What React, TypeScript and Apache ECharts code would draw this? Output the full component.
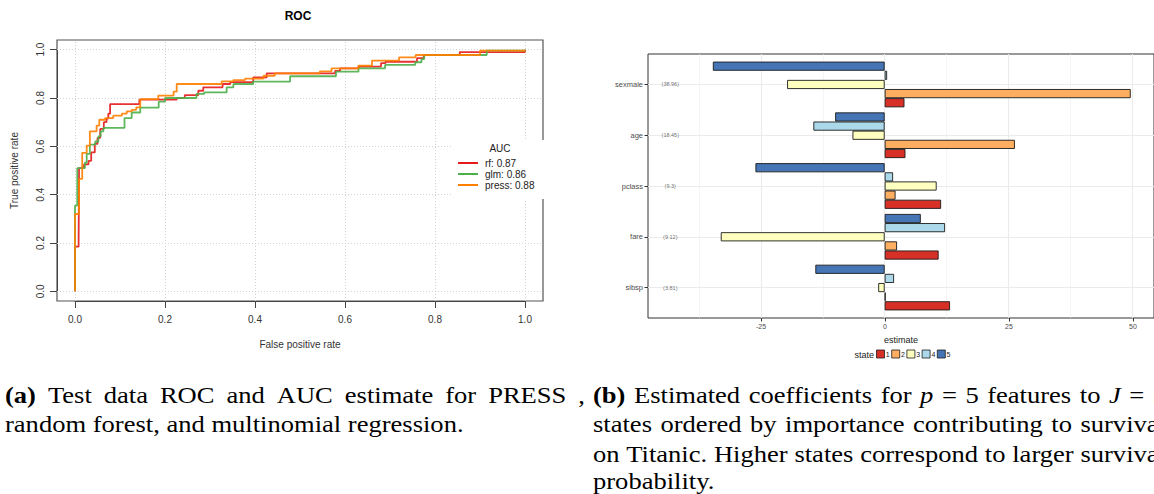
import React, { useEffect, useRef } from 'react';
import * as echarts from 'echarts';

// ---------- Panel (a): ROC ----------
const rocTicks = [0, 0.2, 0.4, 0.6, 0.8, 1.0];
const rocNames = ['rf: 0.87', 'glm: 0.86', 'press: 0.88'];
const rocColors = ['#E41A1C', '#4DAF4A', '#FF7F00'];

const rfPoints = [
  [0, 0], [0, 0.185], [0.008, 0.2], [0.009, 0.51], [0.02, 0.525], [0.03, 0.54], [0.036, 0.575],
  [0.044, 0.61], [0.05, 0.635], [0.056, 0.672], [0.064, 0.7], [0.07, 0.715], [0.074, 0.735],
  [0.078, 0.775], [0.143, 0.793], [0.226, 0.8], [0.244, 0.812], [0.274, 0.83], [0.285, 0.844],
  [0.328, 0.858], [0.345, 0.866], [0.396, 0.885], [0.426, 0.902], [0.578, 0.912], [0.589, 0.923],
  [0.63, 0.93], [0.68, 0.944], [0.69, 0.95], [0.76, 0.965], [0.775, 0.978], [0.855, 0.99], [1, 1],
];
const glmPoints = [
  [0, 0], [0, 0.355], [0.005, 0.51], [0.022, 0.532], [0.026, 0.569], [0.033, 0.607], [0.045, 0.62],
  [0.052, 0.641], [0.057, 0.662], [0.063, 0.676], [0.11, 0.717], [0.126, 0.74], [0.145, 0.76],
  [0.186, 0.785], [0.2, 0.8], [0.27, 0.817], [0.287, 0.823], [0.337, 0.844], [0.352, 0.858],
  [0.396, 0.868], [0.478, 0.89], [0.58, 0.909], [0.63, 0.923], [0.689, 0.937], [0.756, 0.948],
  [0.77, 0.961], [0.776, 0.978], [0.915, 0.996], [1, 1],
];
const pressPoints = [
  [0, 0], [0, 0.32], [0.009, 0.465], [0.016, 0.573], [0.026, 0.603], [0.033, 0.662], [0.048, 0.686],
  [0.054, 0.71], [0.067, 0.717], [0.085, 0.727], [0.104, 0.735], [0.115, 0.745], [0.126, 0.751],
  [0.136, 0.761], [0.145, 0.795], [0.185, 0.81], [0.219, 0.826], [0.226, 0.858], [0.326, 0.869],
  [0.352, 0.874], [0.378, 0.88], [0.419, 0.892], [0.444, 0.902], [0.544, 0.91], [0.57, 0.923],
  [0.63, 0.934], [0.66, 0.955], [0.72, 0.968], [0.757, 0.978], [0.9, 0.996], [1, 1],
];

// ---------- Panel (b): coefficients ----------
const features = ['sexmale', 'age', 'pclass', 'fare', 'sibsp'];
const importance = ['(38.96)', '(18.45)', '(9.3)', '(9.12)', '(3.81)'];
const stateNames = ['1', '2', '3', '4', '5'];
const stateColors = ['#D73027', '#FDAE61', '#FFFFBF', '#ABD9E9', '#4575B4'];
const state1 = [4.0, 4.2, 11.4, 10.9, 13.2];
const state2 = [49.7, 26.3, 2.2, 2.5, 0.2];
const state3 = [-19.7, -6.5, 10.5, -33.1, -1.3];
const state4 = [0.5, -14.4, 1.7, 12.2, 1.9];
const state5 = [-34.7, -10.0, -26.1, 7.3, -14.0];
const stateValues = [state1, state2, state3, state4, state5];
const estimateTicks = [-25, 0, 25, 50];
const estimateMinor = [-37.5, -12.5, 12.5, 37.5];

// ---------- Captions ----------
type Word = { t: string; s?: 'b' | 'i' };
const w = (line: string): Word[] => line.split(' ').map((t) => ({ t }));
const capA1: Word[] = [{ t: '(a)', s: 'b' }, ...w('Test data ROC and AUC estimate for PRESS ,')];
const capA2 = 'random forest, and multinomial regression.';
const capB1: Word[] = [
  { t: '(b)', s: 'b' }, ...w('Estimated coefficients for'), { t: 'p', s: 'i' }, { t: '=' }, { t: '5' },
  ...w('features to'), { t: 'J', s: 'i' }, { t: '=' }, { t: '5' },
];
const capB2: Word[] = w('states ordered by importance contributing to survival');
const capB3: Word[] = w('on Titanic. Higher states correspond to larger survival');
const capB4 = 'probability.';

const SANS = '"Liberation Sans", Arial, Helvetica, sans-serif';
const SERIF_NAME = 'Liberation Serif';
const SERIF = '"Liberation Serif", "Times New Roman", serif';
const CAP_SIZE = 23;
const CAP_SCALE = 1.155;

let measureCtx: CanvasRenderingContext2D | null = null;
function measure(text: string, s?: 'b' | 'i') {
  if (!measureCtx) measureCtx = document.createElement('canvas').getContext('2d');
  const ctx = measureCtx as CanvasRenderingContext2D;
  ctx.font = `${s === 'i' ? 'italic ' : ''}${s === 'b' ? 'bold ' : ''}${CAP_SIZE}px "${SERIF_NAME}"`;
  return ctx.measureText(text).width * CAP_SCALE;
}

function wordEl(x: number, y: number, text: string, s?: 'b' | 'i') {
  return {
    type: 'text',
    x,
    y,
    scaleX: CAP_SCALE,
    z: 100,
    style: {
      text,
      fontFamily: SERIF,
      fontSize: CAP_SIZE,
      fontWeight: s === 'b' ? 'bold' : 'normal',
      fontStyle: s === 'i' ? 'italic' : 'normal',
      fill: '#000',
      verticalAlign: 'middle',
      align: 'left',
    },
  };
}

function justified(x0: number, x1: number, y: number, words: Word[]) {
  const widths = words.map((wd) => measure(wd.t, wd.s));
  const total = widths.reduce((a, b) => a + b, 0);
  const gap = (x1 - x0 - total) / (words.length - 1);
  let x = x0;
  return words.map((wd, i) => {
    const el = wordEl(x, y, wd.t, wd.s);
    x += widths[i] + gap;
    return el;
  });
}

export default function App() {
  const ref = useRef<HTMLDivElement>(null);
  useEffect(() => {
    if (!ref.current) return;
    const chart = echarts.init(ref.current, undefined, { renderer: 'svg' });
    const fmt1 = (v: number) => v.toFixed(1);

    const rocSeries = [rfPoints, glmPoints, pressPoints].map((pts, i) => ({
      type: 'line',
      name: rocNames[i],
      xAxisIndex: 0,
      yAxisIndex: 0,
      data: pts,
      step: 'end',
      symbol: 'none',
      showSymbol: false,
      z: 3 + i,
      lineStyle: { color: rocColors[i], width: 1.8, opacity: 0.9 },
      itemStyle: { color: rocColors[i] },
    }));

    const barSeries = [4, 3, 2, 1, 0].map((k) => ({
      type: 'bar',
      name: stateNames[k],
      xAxisIndex: 3,
      yAxisIndex: 3,
      data: stateValues[k],
      barCategoryGap: '10%',
      barGap: '0%',
      z: 3,
      itemStyle: { color: stateColors[k], borderColor: '#1a1a1a', borderWidth: 0.9 },
    }));

    const stateLegend: any[] = [];
    stateNames.forEach((n, k) => {
      const bx = 876.5 + k * 15.2;
      stateLegend.push({
        type: 'rect', z: 100, shape: { x: bx, y: 350, width: 8, height: 8 },
        style: { fill: stateColors[k], stroke: '#1a1a1a', lineWidth: 0.8 },
      });
      stateLegend.push({
        type: 'text', z: 100, x: bx + 9.3, y: 354.5,
        style: { text: n, fontFamily: SANS, fontSize: 7, fill: '#1a1a1a', align: 'left', verticalAlign: 'middle' },
      });
    });

    const axisLineCommon = { show: true, onZero: false, lineStyle: { color: '#444', width: 1 } };

    const option: any = {
      animation: false,
      textStyle: { fontFamily: SANS },
      grid: [
        { left: 57, top: 40, width: 486, height: 261, show: true, borderColor: '#555', borderWidth: 1.2 },
        { left: 75, top: 49.67, width: 450, height: 241.67 },
        { left: 648, top: 54, width: 507, height: 264, show: true, borderColor: '#333', borderWidth: 1 },
        { left: 648, top: 59.08, width: 507, height: 253.85 },
        { left: 761, top: 54, width: 372, height: 264 },
      ],
      xAxis: [
        { gridIndex: 0, type: 'value', min: -0.04, max: 1.04, show: false },
        {
          gridIndex: 1, type: 'value', min: 0, max: 1, interval: 0.2, offset: 9.7,
          axisLine: axisLineCommon,
          axisTick: { show: true, length: 7, lineStyle: { color: '#444' } },
          axisLabel: { formatter: fmt1, fontSize: 10, color: '#333', margin: 13 },
          splitLine: { show: false },
          name: 'False positive rate', nameLocation: 'middle', nameGap: 38,
          nameTextStyle: { fontSize: 10, color: '#333' },
        },
        { gridIndex: 2, type: 'value', min: -47.8, max: 54.4, show: false },
        { gridIndex: 3, type: 'value', min: -47.8, max: 54.4, show: false },
        {
          gridIndex: 4, type: 'value', min: -25, max: 50, interval: 25,
          axisLine: { show: false, onZero: false },
          axisTick: { show: true, length: 3.5, lineStyle: { color: '#333' } },
          axisLabel: { fontSize: 7, color: '#4D4D4D', margin: 5 },
          splitLine: { show: false },
        },
      ],
      yAxis: [
        { gridIndex: 0, type: 'value', min: -0.04, max: 1.04, show: false },
        {
          gridIndex: 1, type: 'value', min: 0, max: 1, interval: 0.2, offset: 18,
          axisLine: axisLineCommon,
          axisTick: { show: true, length: 7, lineStyle: { color: '#444' } },
          axisLabel: { formatter: fmt1, fontSize: 10, color: '#333', margin: 12, rotate: 90 },
          splitLine: { show: false },
          name: 'True positive rate', nameLocation: 'middle', nameGap: 38, nameRotate: 90,
          nameTextStyle: { fontSize: 10, color: '#333' },
        },
        { gridIndex: 2, type: 'value', min: 0.4, max: 5.6, inverse: true, show: false },
        {
          gridIndex: 3, type: 'category', data: features, inverse: true,
          axisLine: { show: false, onZero: false },
          axisTick: { show: true, alignWithLabel: true, length: 3.5, lineStyle: { color: '#333' } },
          axisLabel: { fontSize: 7.5, color: '#4D4D4D', margin: 5 },
          splitLine: { show: false },
        },
        { gridIndex: 4, type: 'value', show: false },
      ],
      legend: [
        {
          data: rocNames, orient: 'vertical', left: 452, top: 140, icon: 'rect',
          backgroundColor: '#fff', padding: [18, 16, 9, 6], itemWidth: 20, itemHeight: 2, itemGap: 1,
          textStyle: { fontSize: 10, color: '#222', fontFamily: SANS, padding: [0, 0, 0, 2] },
          selectedMode: false, z: 10,
        },
      ],
      series: [
        {
          type: 'line', name: '_rocgrid', xAxisIndex: 0, yAxisIndex: 0, data: [], z: 1,
          markLine: {
            silent: true, symbol: ['none', 'none'], z: 1, label: { show: false },
            lineStyle: { color: '#D3D3D3', type: [1, 2], width: 1 },
            data: [...rocTicks.map((v) => ({ xAxis: v })), ...rocTicks.map((v) => ({ yAxis: v }))],
          },
        },
        ...rocSeries,
        {
          type: 'line', name: '_bargrid', xAxisIndex: 2, yAxisIndex: 2, data: [], z: 1,
          markLine: {
            silent: true, symbol: ['none', 'none'], z: 1, label: { show: false },
            lineStyle: { color: '#EBEBEB', type: 'solid', width: 1.1 },
            data: [
              ...estimateTicks.map((v) => ({ xAxis: v })),
              ...estimateMinor.map((v) => ({ xAxis: v, lineStyle: { color: '#EEEEEE', width: 0.6, type: 'solid' } })),
              ...features.map((_, i) => ({ yAxis: i + 1 })),
            ],
          },
        },
        ...barSeries,
        {
          type: 'scatter', name: '_importance', xAxisIndex: 3, yAxisIndex: 3,
          data: importance.map((_, i) => [-43.3, i]),
          symbolSize: 0, z: 4,
          label: {
            show: true, position: 'inside', fontSize: 5.5, color: '#4D4D4D',
            formatter: (p: any) => importance[p.dataIndex],
          },
        },
      ],
      graphic: [
        { type: 'text', x: 298, y: 16, z: 100, style: { text: 'ROC', fontFamily: SANS, fontSize: 12, fontWeight: 'bold', fill: '#000', align: 'center', verticalAlign: 'middle' } },
        { type: 'text', x: 500, y: 148, z: 100, style: { text: 'AUC', fontFamily: SANS, fontSize: 10, fill: '#222', align: 'center', verticalAlign: 'middle' } },
        { type: 'text', x: 901, y: 340, z: 100, style: { text: 'estimate', fontFamily: SANS, fontSize: 9, fill: '#1a1a1a', align: 'center', verticalAlign: 'middle' } },
        { type: 'text', x: 874, y: 354.5, z: 100, style: { text: 'state', fontFamily: SANS, fontSize: 9, fill: '#1a1a1a', align: 'right', verticalAlign: 'middle' } },
        ...stateLegend,
        ...justified(5, 585, 395, capA1),
        wordEl(5, 424, capA2),
        ...justified(593, 1166, 395, capB1),
        ...justified(593, 1166, 424, capB2),
        ...justified(593, 1166, 454, capB3),
        wordEl(593, 481, capB4),
      ],
    };
    chart.setOption(option);
    return () => chart.dispose();
  }, []);
  return <div ref={ref} style={{ position: 'absolute', left: 0, top: 0, width: 1154, height: 494 }} />;
}
